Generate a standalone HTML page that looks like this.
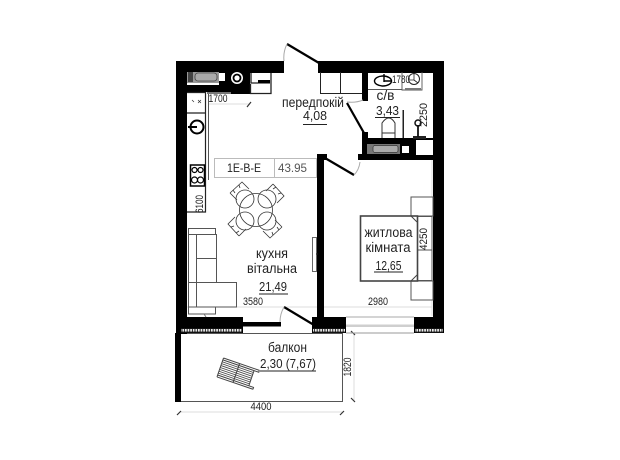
<!DOCTYPE html>
<html><head><meta charset="utf-8">
<style>
html,body{margin:0;padding:0;background:#fff;width:620px;height:460px;overflow:hidden}
svg{display:block}
text{font-family:"Liberation Sans",sans-serif;fill:#222}
</style></head><body>
<svg width="620" height="460" viewBox="0 0 620 460" xmlns="http://www.w3.org/2000/svg">
<defs>
<pattern id="h" x="0" y="328" width="2.6" height="5" patternUnits="userSpaceOnUse"><rect width="2.6" height="5" fill="#111"/><rect x=".4" y="1" width="1.7" height="2.6" fill="#eee"/></pattern>
</defs>
<!-- dimension lines -->
<g stroke="#ddd" stroke-width="1" fill="none">
<path d="M209 104H250M181 412H343M354 333V401M187 307H317M324 307H432"/>
<path d="M432 160V316"/>
</g>
<!-- balcony -->
<path d="M181 333.500H342.500V401.500H181" fill="none" stroke="#555" stroke-width="1"/>
<rect x="175" y="333" width="6" height="69" fill="#000"/>
<g stroke="#333" stroke-width="1.200"><path d="M177 415L181 411M340 415L344 411M351 331L355 335M351 398L355 402M247 107L251 102"/></g>
<!-- walls -->
<g fill="#000">
<rect x="176" y="61" width="108" height="12"/>
<rect x="318" y="61" width="126" height="12"/>
<rect x="176" y="61" width="11" height="273"/>
<rect x="433" y="61" width="11" height="272"/>
<rect x="176" y="317" width="67" height="16"/>
<rect x="243" y="322" width="38" height="4.500"/>
<rect x="312" y="317" width="34" height="16"/>
<rect x="414" y="317" width="30" height="16"/>
<rect x="317" y="154" width="7" height="165"/>
<rect x="317" y="154" width="10" height="6"/>
<rect x="362" y="72" width="6" height="29"/>
<rect x="362" y="132" width="6" height="25"/>
<rect x="362" y="138" width="72" height="22"/>
<rect x="358" y="154" width="76" height="6"/>
<rect x="187" y="72" width="63" height="20"/>
<rect x="207" y="90" width="43" height="4"/>
</g>
<rect x="181" y="328" width="61" height="5" fill="url(#h)"/>
<rect x="313" y="328" width="32" height="5" fill="url(#h)"/>
<rect x="415" y="328" width="28" height="5" fill="url(#h)"/>
<!-- window -->
<rect x="346" y="324.500" width="68" height="2.500" fill="#cfcfcf"/>
<path d="M346 317H414" stroke="#aaa" stroke-width="1"/>
<path d="M346 333H414" stroke="#999" stroke-width="1"/>
<path d="M243 333.500H312" stroke="#555" stroke-width="1"/>
<!-- doors -->
<g fill="none" stroke="#000" stroke-width="2.200">
<path d="M287 44L319 63"/>
<path d="M284 307L314 325"/>
<path d="M347 103L364 133"/>
<path d="M325 158L354 175"/>
</g>
<g fill="none" stroke="#aaa" stroke-width="1">
<path d="M287 44Q283 52 284 61M363 100Q356 103 347 102M360 162Q359 170 354 175M284 307Q280 314 280 322"/>
</g>
<!-- kitchen sink top -->
<rect x="187" y="72" width="32" height="11" fill="#999"/>
<rect x="188" y="72" width="5" height="10" fill="#444"/>
<rect x="195" y="73" width="22" height="8" rx="3" fill="#aaa" stroke="#444" stroke-width=".8"/>
<rect x="187" y="83" width="32" height="2" fill="#fff"/>
<rect x="219" y="73" width="6" height="8" fill="#fff"/>
<circle cx="237" cy="78" r="6" fill="#fff"/>
<circle cx="237" cy="78" r="3.500" fill="#fff" stroke="#000" stroke-width="1.800"/>
<rect x="250" y="73" width="21" height="20" fill="#fff"/>
<rect x="258" y="80" width="12" height="3.500" fill="#000"/>
<path d="M251 73V83H258M250.500 84V93.500H271V73" fill="none" stroke="#222" stroke-width="1.300"/>
<rect x="207" y="92" width="24" height="2" fill="#777"/>
<!-- kitchen counter -->
<g fill="none" stroke="#222" stroke-width="1.200">
<path d="M187 92.500H205.500V212H187"/>
<path d="M187 113H205"/>
</g>
<path d="M208.500 94V180" stroke="#555" stroke-width="1"/>
<path d="M194 102l-2-2M198 100l3 3M201 100l-3 3" stroke="#333" stroke-width=".7"/>
<circle cx="197" cy="127" r="6.500" fill="#fff" stroke="#000" stroke-width="2"/>
<path d="M188 127h9" stroke="#000" stroke-width="2"/>
<rect x="190.500" y="165" width="14" height="21" fill="#fff" stroke="#000" stroke-width="1.500"/>
<g fill="none" stroke="#000" stroke-width="1.200"><circle cx="194.500" cy="170" r="2.500"/><circle cx="200.500" cy="170" r="2.500"/><circle cx="194.500" cy="180" r="3"/><circle cx="200.500" cy="180" r="3"/></g>
<!-- label table -->
<rect x="214.500" y="158.500" width="102" height="19" fill="#fff" stroke="#bbb"/>
<path d="M274.500 159V177" stroke="#bbb"/>
<text x="244" y="172" font-size="12" text-anchor="middle" textLength="34" lengthAdjust="spacingAndGlyphs">1E-B-E</text>
<text x="292.500" y="172" font-size="12" text-anchor="middle" style="fill:#555" textLength="29" lengthAdjust="spacingAndGlyphs">43.95</text>
<!-- table + chairs -->
<g fill="none" stroke="#333" stroke-width=".8">
<circle cx="256" cy="210" r="16.500"/>
<g id="c">
<circle cx="245" cy="199" r="9"/>
<path d="M230 193L242 182L249 189M230 193L237 200M233 190l2 3M239 185l1 3"/>
</g>
<use href="#c" transform="rotate(90 256 210)"/>
<use href="#c" transform="rotate(180 256 210)"/>
<use href="#c" transform="rotate(270 256 210)"/>
</g>
<!-- sofa -->
<g fill="#fff" stroke="#555" stroke-width="1">
<rect x="188.500" y="228.500" width="27" height="6"/>
<rect x="188.500" y="306" width="27" height="8"/>
<rect x="188.500" y="234.500" width="8" height="48"/>
<rect x="196.500" y="234.500" width="20" height="24"/>
<rect x="196.500" y="258.500" width="20" height="24"/>
<rect x="188.500" y="282.500" width="48" height="24.500"/>
<path d="M196.500 282V307"/>
</g>
<path d="M204 314L206 317" stroke="#777"/>
<!-- tv -->
<rect x="312.500" y="237.500" width="4" height="34" fill="#fff" stroke="#666"/>
<path d="M316 254H318" stroke="#222"/>
<!-- bed -->
<g fill="#fff" stroke="#555" stroke-width="1">
<rect x="411" y="197" width="22" height="19"/>
<rect x="411" y="281" width="22" height="19"/>
<rect x="417" y="216.500" width="15" height="64"/>
<path d="M417 250H432"/>
</g>
<rect x="360.500" y="216" width="57" height="65" fill="#fff" stroke="#444" stroke-width="1.600"/>
<path d="M411 216L417 222M411 281L417 275" fill="none" stroke="#444"/>
<!-- bathroom -->
<path d="M368 89.500H402M402 72V90H422V72" fill="none" stroke="#555" stroke-width=".9"/>
<ellipse cx="383" cy="81" rx="8.500" ry="5" fill="none" stroke="#000" stroke-width="1.400"/>
<path d="M384 74V82M384 81h8" stroke="#000" stroke-width="1.400"/>
<circle cx="414" cy="79" r="5.500" fill="#fff" stroke="#222" stroke-width="1"/>
<path d="M414 74V80L418 83M414 80H410" stroke="#222" fill="none" stroke-width=".8"/>
<rect x="405" y="88" width="16" height="2" fill="#777"/>
<path d="M382 138V123Q389 113 395 123V138M382 133H395" fill="none" stroke="#333" stroke-width="1"/>
<rect x="402.500" y="110" width="1.500" height="28" fill="#222"/>
<rect x="413" y="136" width="13" height="3" fill="#222"/>
<circle cx="418" cy="123" r="3" fill="none" stroke="#111" stroke-width="1.500"/>
<path d="M418 125V137" stroke="#111" stroke-width="1.800"/>
<rect x="416" y="140" width="17" height="15" fill="#fff"/>
<rect x="367" y="144" width="33" height="10" fill="#777"/>
<rect x="373" y="145.500" width="25" height="7" rx="2" fill="#aaa" stroke="#333" stroke-width=".7"/>
<rect x="402" y="146" width="7" height="7" fill="#fff"/>
<!-- hall storage -->
<g fill="none" stroke="#222" stroke-width="1"><path d="M320.500 72V93.500H362M340.500 72V93.500"/></g>
<!-- balcony lounger -->
<g transform="translate(223.500 358) rotate(19)" fill="none" stroke="#444" stroke-width="1">
<path d="M0 0H38M0 20H38M0 0V20M17 0V20M38 0V2H0M38 20V18H0"/>
<path d="M0 4H33M0 6H33M0 8H33M0 10H33M0 12H33M0 14H33M0 16H33" stroke-width=".8"/>
<path d="M33 2V18"/>
</g>
<!-- text labels -->
<g font-size="13.500" text-anchor="middle">
<text x="313" y="107" textLength="62" lengthAdjust="spacingAndGlyphs">передпокій</text>
<text x="315" y="120" font-size="13" textLength="24" lengthAdjust="spacingAndGlyphs">4,08</text>
<text x="385.500" y="100" textLength="18" lengthAdjust="spacingAndGlyphs">с/в</text>
<text x="387.500" y="115" font-size="13" textLength="23" lengthAdjust="spacingAndGlyphs">3,43</text>
<text x="272" y="258" textLength="32" lengthAdjust="spacingAndGlyphs">кухня</text>
<text x="272" y="273" textLength="50" lengthAdjust="spacingAndGlyphs">вітальна</text>
<text x="273" y="291" font-size="13" textLength="28" lengthAdjust="spacingAndGlyphs">21,49</text>
<text x="388.500" y="237" textLength="48" lengthAdjust="spacingAndGlyphs">житлова</text>
<text x="388" y="252" textLength="45" lengthAdjust="spacingAndGlyphs">кімната</text>
<text x="388.500" y="270" font-size="13" textLength="26" lengthAdjust="spacingAndGlyphs">12,65</text>
<text x="287.500" y="352" textLength="39" lengthAdjust="spacingAndGlyphs">балкон</text>
<text x="288" y="368" font-size="13" textLength="56" lengthAdjust="spacingAndGlyphs">2,30 (7,67)</text>
</g>
<g stroke="#222" stroke-width="1" fill="none">
<path d="M303 124.500H327M375 117.500H400M259 294H288M374 272H403M260 371H316"/>
</g>
<g font-size="11" text-anchor="middle">
<text x="218" y="102" textLength="19" lengthAdjust="spacingAndGlyphs">1700</text>
<text x="401" y="83" textLength="18" lengthAdjust="spacingAndGlyphs">1780</text>
<text x="253" y="305" textLength="20" lengthAdjust="spacingAndGlyphs">3580</text>
<text x="378" y="305" textLength="20" lengthAdjust="spacingAndGlyphs">2980</text>
<text x="261" y="410" textLength="21" lengthAdjust="spacingAndGlyphs">4400</text>
<text transform="translate(203 204) rotate(-90)" textLength="18" lengthAdjust="spacingAndGlyphs">6100</text>
<text transform="translate(427 115) rotate(-90)" textLength="24" lengthAdjust="spacingAndGlyphs">2250</text>
<text transform="translate(427 239) rotate(-90)" textLength="22" lengthAdjust="spacingAndGlyphs">4250</text>
<text transform="translate(351 367) rotate(-90)" textLength="19" lengthAdjust="spacingAndGlyphs">1820</text>
</g>
</svg>
</body></html>
